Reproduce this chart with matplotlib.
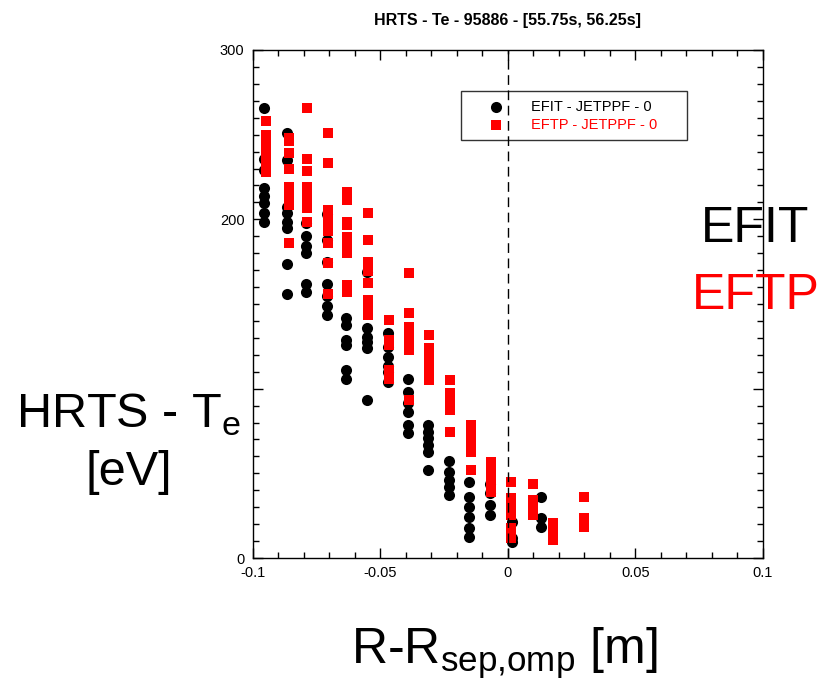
import matplotlib.pyplot as plt
from matplotlib.ticker import MultipleLocator

plt.rcParams['font.family'] = ['Liberation Sans', 'DejaVu Sans']
plt.rcParams['mathtext.fontset'] = 'custom'
plt.rcParams['mathtext.rm'] = 'Liberation Sans'

# HRTS Te profile, EFIT mapping (black circles)
efit_r = ([-0.0957] * 8 + [-0.0867] * 8 + [-0.0792] * 6 + [-0.0710] * 7
          + [-0.0635] * 6 + [-0.0553] * 6 + [-0.0471] * 6 + [-0.0392] * 6
          + [-0.0314] * 6 + [-0.0231] * 5 + [-0.0153] * 6 + [-0.0071] * 4
          + [0.0016] * 3 + [0.0129] * 3)
efit_te = ([266, 235.6, 229, 218.5, 214, 209.5, 203.5, 198.5]
           + [251, 235, 207, 203.5, 198.5, 195, 173.5, 156]
           + [197.6, 190, 184, 180, 162, 157]
           + [203, 188, 175, 162, 155, 149, 143.5]
           + [141.5, 137.6, 128.7, 125.8, 111, 106]
           + [169, 135.6, 130.7, 127.7, 123.8, 93.3]
           + [132.9, 124.6, 118.7, 113.4, 110, 104]
           + [106, 98.2, 91.4, 86.4, 78.5, 73.6]
           + [78.5, 74.6, 70.7, 66.7, 62.8, 52]
           + [57.5, 51, 46, 42, 37.2]
           + [45, 36.2, 30.3, 24.4, 17.5, 12.6]
           + [44, 38.2, 31.3, 25.4]
           + [21.4, 11.8, 9.6]
           + [36.2, 23.4, 18.1])

# same profile, EFTP mapping (red squares)
eftp_r = ([-0.0949] * 7 + [-0.0859] * 8 + [-0.0788] * 8 + [-0.0706] * 9
          + [-0.0631] * 9 + [-0.0549] * 8 + [-0.0467] * 5 + [-0.0388] * 7
          + [-0.0310] * 6 + [-0.0227] * 5 + [-0.0145] * 5 + [-0.0067] * 5
          + [0.0012] * 7 + [0.0098] * 4 + [0.0176] * 3 + [0.0298] * 3)
eftp_te = ([258, 250, 246, 242, 238, 234, 228]
           + [248, 246, 239, 230, 219, 213, 208.5, 186]
           + [266, 235.6, 228.7, 219, 215, 211, 206.5, 198.6]
           + [251, 233.5, 205.5, 201.5, 197.5, 193, 186, 174, 156]
           + [216.4, 211.4, 198.6, 196.7, 189.8, 184, 180, 161, 157]
           + [203.6, 187.8, 175, 169.7, 162.2, 152.4, 148.4, 143.5]
           + [140.5, 128.7, 125.8, 111, 106]
           + [168.5, 144.5, 136.6, 131.7, 127.7, 122.8, 93.3]
           + [131.7, 123.8, 118.9, 114, 110, 105]
           + [105, 97.3, 92.3, 87.4, 74.6]
           + [78.5, 73.6, 67.7, 62.8, 52]
           + [56.9, 51, 46, 41.2, 39.2]
           + [45, 35.2, 30.3, 25.4, 17.5, 14.6, 11.6]
           + [44, 34.3, 30.3, 25.4]
           + [20.5, 16.5, 10.6]
           + [36.2, 23.4, 18.5])

fig = plt.figure(figsize=(8.21, 6.81), dpi=100)
ax = fig.add_axes([0.308, 0.1806, 0.621, 0.746])

ax.scatter(efit_r, efit_te, s=64, marker='o', color='black', linewidths=0,
           label='EFIT - JETPPF - 0', zorder=3)
ax.scatter(eftp_r, eftp_te, s=60, marker='s', color='#ff0000', linewidths=0,
           label='EFTP - JETPPF - 0', zorder=4)
ax.axvline(0, color='black', lw=1, ls=(0, (7, 4)), zorder=6)

ax.set_xlim(-0.1, 0.1)
ax.set_ylim(0, 300)
ax.xaxis.set_minor_locator(MultipleLocator(0.01))
ax.yaxis.set_minor_locator(MultipleLocator(10))
ax.set_xticks([-0.1, -0.05, 0, 0.05, 0.1])
ax.set_xticklabels(['-0.1', '-0.05', '0', '0.05', '0.1'])
ax.set_yticks([0, 100, 200, 300])
ax.set_yticklabels(['0', '', '200', '300'])
ax.tick_params(which='both', direction='in', top=True, right=True,
               labelsize=10.5, width=1)
ax.tick_params(which='major', length=7, pad=6)
ax.tick_params(which='minor', length=4)
for sp in ax.spines.values():
    sp.set_linewidth(1)

ax.set_title('HRTS - Te - 95886 - [55.75s, 56.25s]', fontsize=11.5,
             fontweight='bold', pad=18)

leg = ax.legend(['EFIT - JETPPF - 0' + ' ' * 5, 'EFTP - JETPPF - 0' + ' ' * 5],
                loc='upper left', bbox_to_anchor=(0.408, 0.919),
                frameon=True, fancybox=False, edgecolor='black',
                fontsize=10.5, handletextpad=0.6, borderpad=0.6,
                labelspacing=0.25, borderaxespad=0, handlelength=3.6)
leg.set_zorder(5)
leg.get_frame().set_linewidth(1)
leg.get_frame().set_facecolor('none')
leg.get_texts()[1].set_color('#ff0000')

fig.text(0.157, 0.39, r'HRTS - T$_\mathregular{e}$', fontsize=35,
         ha='center', va='center')
fig.text(0.157, 0.306, '[eV]', fontsize=35, ha='center', va='center')
fig.text(0.92, 0.664, 'EFIT', fontsize=36, ha='center', va='center',
         color='black')
fig.text(0.92, 0.566, 'EFTP', fontsize=36, ha='center', va='center',
         color='#ff0000')
fig.text(0.614, 0.04, r'R-R$_\mathregular{sep{,}omp}$ [m]', fontsize=36,
         ha='center', va='center')

fig.savefig('out.png', dpi=100)
